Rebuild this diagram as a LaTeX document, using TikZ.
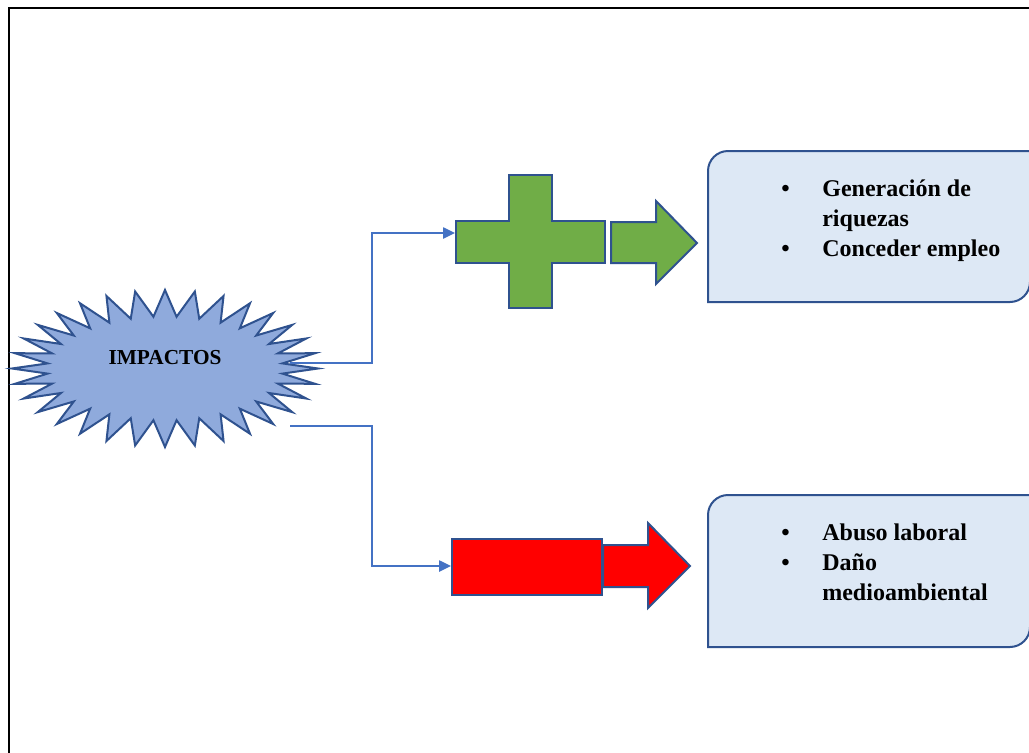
\documentclass[tikz,border=0pt]{standalone}
\usepackage{fontspec}
\setmainfont{Liberation Serif}
\usetikzlibrary{arrows.meta}
\definecolor{edge}{HTML}{2F528F}
\definecolor{link}{HTML}{4472C4}
\definecolor{burstfill}{HTML}{8FAADC}
\definecolor{plusgreen}{HTML}{70AD47}
\definecolor{boxfill}{HTML}{DDE8F5}
\begin{document}
\begin{tikzpicture}[x=0.75pt,y=-0.75pt,
  outlined/.style={draw=edge, line width=1.5pt, line join=miter},
  conn/.style={draw=link, line width=1.1pt, -{Triangle[length=9pt,width=8.5pt]}},
  listtext/.style={anchor=base west, inner sep=0pt, font=\fontsize{18}{22.5}\selectfont\bfseries},
  burstlabel/.style={inner sep=0pt, font=\fontsize{16}{19}\selectfont\bfseries}]
\useasboundingbox (0,0) rectangle (1029,753);
\fill[white] (0,0) rectangle (1029,753);

% page frame
\draw[line width=1.5pt] (9,760) -- (9,8) -- (1040,8);

% starburst
\path[outlined, fill=burstfill] (318,368.5)
  \foreach \i in {0,...,31} {
    -- ({165+118*cos(\i*11.25+5.625)},{368.5+52*sin(\i*11.25+5.625)})
    -- ({165+153*cos((\i+1)*11.25)},{368.5+78.5*sin((\i+1)*11.25)})
  } -- cycle;
\node[burstlabel] (imp) at (165,358) {IMPACTOS};

% connector anchors
\coordinate (upout) at (290,363);
\coordinate (downout) at (290,426);
\coordinate (plusin) at (455,233);
\coordinate (minusin) at (451,566);

% positive branch: plus sign and arrow
\path[outlined, fill=plusgreen] (456,221) -- (509,221) -- (509,175) -- (552,175) -- (552,221)
  -- (605,221) -- (605,263) -- (552,263) -- (552,308) -- (509,308) -- (509,263) -- (456,263) -- cycle;
\path[outlined, fill=plusgreen] (611,222) -- (656,222) -- (656,201) -- (697,243) -- (656,284)
  -- (656,263) -- (611,263) -- cycle;

% negative branch: minus bar and arrow
\path[outlined, fill=red] (452,539) rectangle (602,595);
\path[outlined, fill=red] (603,545) -- (648,545) -- (648,523) -- (690,566) -- (648,608)
  -- (648,587) -- (603,587) -- cycle;

% connectors
\draw[conn] (upout) -- (372,363) |- (plusin);
\draw[conn] (downout) -- (372,426) |- (minusin);

% result boxes
\path[outlined, fill=boxfill] (708,302) -- (708,171) .. controls (708,160) and (717,151) .. (728,151)
  -- (1030,151) -- (1030,282) .. controls (1030,293) and (1021,302) .. (1010,302) -- cycle;
\path[outlined, fill=boxfill] (708,647) -- (708,515) .. controls (708,504) and (717,495) .. (728,495)
  -- (1030,495) -- (1030,627) .. controls (1030,638) and (1021,647) .. (1010,647) -- cycle;

\node[listtext] (pos) at (781,196) {\begin{tabular}[t]{@{}l@{\hspace{24.5pt}}p{140pt}@{}}
  \textbullet & \raggedright Generación de riquezas\tabularnewline
  \textbullet & \raggedright Conceder empleo\tabularnewline
\end{tabular}};
\node[listtext] (neg) at (781,540) {\begin{tabular}[t]{@{}l@{\hspace{24.5pt}}p{140pt}@{}}
  \textbullet & \raggedright Abuso laboral\tabularnewline
  \textbullet & \raggedright Daño medioambiental\tabularnewline
\end{tabular}};
\end{tikzpicture}
\end{document}
